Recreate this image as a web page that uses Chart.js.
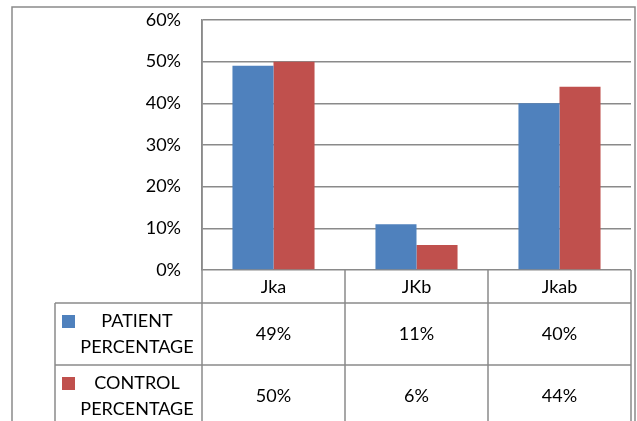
<!DOCTYPE html>
<html>
<head>
<meta charset="utf-8">
<script src="https://cdn.jsdelivr.net/npm/chart.js@4"></script>
<style>
  html, body { margin:0; padding:0; background:#fff; }
  canvas { display:block; }
</style>
</head>
<body>
<canvas id="chart" width="637" height="421"></canvas>
<script>
// data
const categories = ['Jka', 'JKb', 'Jkab'];
const patientValues = [49, 11, 40];
const controlValues = [50, 6, 44];
const seriesLabels = [['PATIENT', 'PERCENTAGE'], ['CONTROL', 'PERCENTAGE']];
const yMax = 60;
const yStep = 10;

const BLUE = '#4F81BD';
const RED = '#C0504D';
const LINE = '#8a8a8a';
const FONT = 'Lato, "Open Sans", sans-serif';

// data table under the plot, columns taken from the x scale
const dataTable = {
  id: 'dataTable',
  afterDraw(chart){
    const ctx = chart.ctx;
    const area = chart.chartArea;
    const xs = chart.scales.x;
    const headH = 33, rowH = 62, tableLeft = 55;
    const yHead = area.bottom, yRow1 = yHead + headH, yRow2 = yRow1 + rowH, yEnd = chart.height + 5;

    const bounds = [area.left];
    for(let i=0;i<categories.length-1;i++) bounds.push((xs.getPixelForValue(i)+xs.getPixelForValue(i+1))/2);
    bounds.push(area.right);

    ctx.save();
    ctx.strokeStyle = LINE;
    ctx.lineWidth = 1.5;
    ctx.beginPath();
    // outer chart border
    ctx.moveTo(12, yEnd); ctx.lineTo(12, 7); ctx.lineTo(635, 7); ctx.lineTo(635, yEnd);
    // table verticals
    bounds.forEach((b,i)=>{ ctx.moveTo(b, i===0?area.top:yHead); ctx.lineTo(b, yEnd); });
    ctx.moveTo(tableLeft, yRow1); ctx.lineTo(tableLeft, yEnd);
    // table horizontals
    [yRow1, yRow2].forEach(y=>{ ctx.moveTo(tableLeft, y); ctx.lineTo(area.right, y); });
    ctx.stroke();

    ctx.fillStyle = '#000';
    ctx.font = '18px ' + FONT;
    ctx.textAlign = 'center';
    ctx.textBaseline = 'middle';
    categories.forEach((c,i)=> ctx.fillText(c, xs.getPixelForValue(i), yHead + headH/2 + 1));

    const rows = [patientValues, controlValues];
    const colors = [BLUE, RED];
    rows.forEach((vals, r)=>{
      const top = yRow1 + r*rowH;
      const mid = top + rowH/2;
      vals.forEach((v,i)=> ctx.fillText(v + '%', xs.getPixelForValue(i), mid));
      ctx.fillStyle = colors[r];
      ctx.fillRect(62, mid - 19, 13, 13);
      ctx.fillStyle = '#000';
      ctx.fillText(seriesLabels[r][0], 137, mid - 13);
      ctx.fillText(seriesLabels[r][1], 137, mid + 13);
    });
    ctx.restore();
  }
};

new Chart(document.getElementById('chart'), {
  type: 'bar',
  data: {
    labels: categories,
    datasets: [
      { label: seriesLabels[0].join(' '), data: patientValues, backgroundColor: BLUE },
      { label: seriesLabels[1].join(' '), data: controlValues, backgroundColor: RED }
    ]
  },
  options: {
    responsive: false,
    animation: false,
    layout: { autoPadding: false, padding: { left: 0, right: 6, top: 20, bottom: 151 } },
    datasets: { bar: { barPercentage: 1, categoryPercentage: 0.574 } },
    plugins: { legend: { display: false }, tooltip: { enabled: false } },
    scales: {
      x: { display: false },
      y: {
        min: 0, max: yMax,
        afterFit(s){ s.width = 202; s.paddingTop = 0; s.paddingBottom = 0; },
        ticks: { stepSize: yStep, padding: 21, color: '#000', font: { family: FONT, size: 18 }, callback: v => v + '%' },
        grid: { color: LINE, lineWidth: 1.5, drawTicks: false },
        border: { display: true, color: LINE, width: 1.5 }
      }
    }
  },
  plugins: [dataTable]
});
</script>
</body>
</html>
